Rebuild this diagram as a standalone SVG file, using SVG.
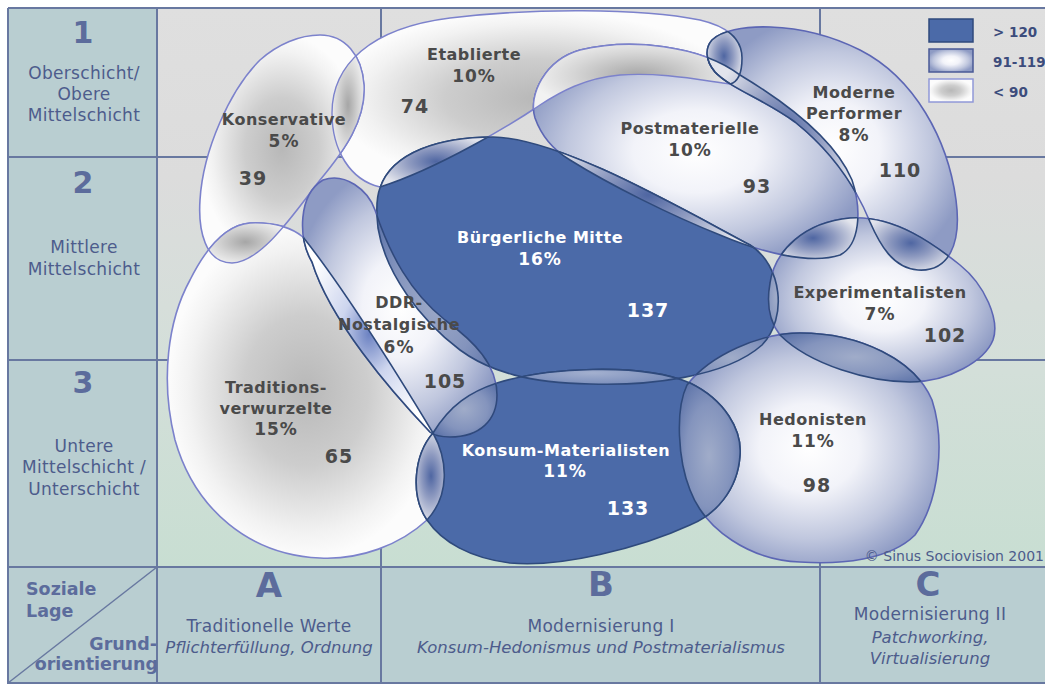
<svg xmlns="http://www.w3.org/2000/svg" xmlns:xlink="http://www.w3.org/1999/xlink" width="1045" height="684" viewBox="0 0 1045 684">
<style>
text{font-family:"DejaVu Sans",Verdana,sans-serif}
.lt{fill:url(#gLight);stroke:#7c82cc;stroke-width:1.6}
.md{fill:url(#gMid);stroke:#5c66b4;stroke-width:1.6}
.dk{fill:#4b6aa8;stroke:#2f4a7c;stroke-width:1.6}
.ln{fill:none;stroke:#2f4a7c;stroke-width:1.6}
.lnl{fill:none;stroke:#7c82cc;stroke-width:1.4}
.lb{font-weight:bold;font-size:16px;fill:#4a4a4a;text-anchor:middle;letter-spacing:0.5px}
.pc{font-weight:bold;font-size:17px;fill:#4a4a4a;text-anchor:middle;letter-spacing:1px}
.nm{font-weight:bold;font-size:19px;fill:#4a4a4a;text-anchor:middle;letter-spacing:1px}
.w{fill:#ffffff}
.ax{font-size:17px;fill:#4d5c8c;text-anchor:middle;letter-spacing:0.3px}
.axi{font-size:16.5px;font-style:italic;fill:#4d5c8c;text-anchor:middle}
.big{font-weight:bold;fill:#5c6c9c;text-anchor:middle}
.grid{stroke:#6878a0;stroke-width:2;fill:none}
.leg{font-weight:bold;font-size:13.5px;fill:#3c4c7c}
</style>
<defs>
<linearGradient id="bg" x1="0" y1="8" x2="0" y2="567" gradientUnits="userSpaceOnUse">
<stop offset="0" stop-color="#dfdfdf"/><stop offset="0.3" stop-color="#dcdcdc"/><stop offset="0.65" stop-color="#d3dfd9"/><stop offset="1" stop-color="#c8ded2"/>
</linearGradient>
<radialGradient id="gLight" cx="0.5" cy="0.5" r="0.5">
<stop offset="0" stop-color="#b8b8b8"/><stop offset="0.45" stop-color="#cdcdcd"/><stop offset="0.85" stop-color="#f2f2f2"/><stop offset="1" stop-color="#fcfcfc"/>
</radialGradient>
<radialGradient id="gMid" cx="0.5" cy="0.5" r="0.55">
<stop offset="0" stop-color="#ffffff"/><stop offset="0.35" stop-color="#f2f3f9"/><stop offset="0.72" stop-color="#c0c7de"/><stop offset="1" stop-color="#8e9bc4"/>
</radialGradient>
<radialGradient id="ovGrey" cx="0.5" cy="0.5" r="0.5">
<stop offset="0" stop-color="#a6a6a6"/><stop offset="0.6" stop-color="#d6d6d6"/><stop offset="1" stop-color="#f2f2f2"/>
</radialGradient>
<radialGradient id="ovBlue" cx="0.5" cy="0.5" r="0.5">
<stop offset="0" stop-color="#4f66a2"/><stop offset="0.45" stop-color="#8e9ac0"/><stop offset="1" stop-color="#e2e4ec"/>
</radialGradient>
<radialGradient id="ovDark" cx="0.5" cy="0.5" r="0.55">
<stop offset="0" stop-color="#a0acc9"/><stop offset="0.6" stop-color="#8494bd"/><stop offset="1" stop-color="#5f75aa"/>
</radialGradient>
<radialGradient id="ovDD" cx="0.5" cy="0.5" r="0.5">
<stop offset="0" stop-color="#a3b0cf"/><stop offset="1" stop-color="#6f84b5"/>
</radialGradient>
<radialGradient id="ovWB" cx="0.5" cy="0.5" r="0.5">
<stop offset="0" stop-color="#6c82c2"/><stop offset="0.4" stop-color="#cdd5ee"/><stop offset="1" stop-color="#ffffff"/>
</radialGradient>
<path id="pE" d="M 380,187 C 350,180 332,150 332,113 C 332,65 370,28 450,18 C 530,8 640,8 700,20 C 730,27 742,40 742,58 C 742,72 738,82 730,84 C 700,80 660,72 620,75 C 585,78 560,92 540,105 C 515,122 440,168 380,187 Z"/>
<path id="pK" d="M 320,35 C 345,35 362,55 364,85 C 366,120 345,150 320,180 C 295,212 262,262 232,263 C 205,263 198,230 200,200 C 203,150 230,90 260,60 C 278,44 300,35 320,35 Z"/>
<path id="pT" d="M 250,223 C 275,222 292,228 303,237 C 345,290 395,370 433,433 C 448,460 450,495 427,520 C 400,545 360,560 320,558 C 250,555 195,510 175,440 C 160,380 168,320 190,280 C 205,250 225,225 250,223 Z"/>
<path id="pP" d="M 535,118 C 528,95 545,60 580,50 C 630,38 700,45 740,75 C 790,105 835,140 852,180 C 862,210 860,245 840,255 C 810,265 760,252 720,235 C 670,215 610,185 570,160 C 550,148 540,132 535,118 Z"/>
<path id="pMP" d="M 712,40 C 730,22 800,20 860,50 C 915,78 948,140 956,200 C 962,245 948,272 918,270 C 893,268 880,245 870,222 C 855,185 830,150 795,122 C 765,100 730,88 715,72 C 705,60 705,48 712,40 Z"/>
<path id="pBM" d="M 380,188 C 392,152 440,137 493,137 C 560,138 680,208 750,245 C 782,265 788,318 762,345 C 725,378 645,386 590,384 C 530,383 490,372 460,350 C 420,320 385,272 378,228 C 376,210 376,198 380,188 Z"/>
<path id="pX" d="M 770,283 C 775,250 805,222 850,218 C 895,215 935,245 960,265 C 985,285 1000,320 993,340 C 985,360 950,382 910,382 C 870,382 810,365 780,335 C 768,320 767,300 770,283 Z"/>
<path id="pH" d="M 687,385 C 710,355 760,333 800,333 C 860,333 915,360 932,400 C 945,440 940,500 915,535 C 890,560 840,565 800,562 C 750,560 705,530 690,490 C 678,460 675,410 687,385 Z"/>
<path id="pKM" d="M 433,433 C 450,405 470,392 497,383 C 545,368 640,362 690,383 C 725,400 742,430 740,455 C 738,490 715,515 690,525 C 640,548 560,568 510,563 C 470,558 442,542 427,520 C 410,495 414,455 433,433 Z"/>
<path id="pD" d="M 323,180 C 345,172 368,190 375,210 C 390,255 410,292 445,320 C 475,342 497,365 497,395 C 497,420 480,437 450,437 C 440,437 435,436 430,432 C 390,390 330,320 312,262 C 298,238 298,195 323,180 Z"/>
<clipPath id="cE"><use xlink:href="#pE"/></clipPath>
<clipPath id="cK"><use xlink:href="#pK"/></clipPath>
<clipPath id="cT"><use xlink:href="#pT"/></clipPath>
<clipPath id="cP"><use xlink:href="#pP"/></clipPath>
<clipPath id="cMP"><use xlink:href="#pMP"/></clipPath>
<clipPath id="cBM"><use xlink:href="#pBM"/></clipPath>
<clipPath id="cX"><use xlink:href="#pX"/></clipPath>
<clipPath id="cH"><use xlink:href="#pH"/></clipPath>
<clipPath id="cKM"><use xlink:href="#pKM"/></clipPath>
<clipPath id="cD"><use xlink:href="#pD"/></clipPath>
</defs>

<g id="frame">
<rect x="157" y="8" width="888" height="559" fill="url(#bg)"/>
<rect x="8" y="8" width="149" height="675" fill="#b9ced1"/>
<rect x="157" y="567" width="888" height="116" fill="#b9ced1"/>
<path class="grid" d="M 8,8 H 1045 M 8,8 V 683 H 1045 M 8,157 H 1045 M 8,360 H 1045 M 8,567 H 1045 M 157,8 V 683 M 381,8 V 683 M 820,8 V 683"/>
<path d="M 8,683 L 157,567" stroke="#6878a0" stroke-width="1.5"/>
</g>

<g id="axis-y">
<text class="big" x="83" y="43" font-size="30">1</text>
<text class="ax" x="84" y="79">Oberschicht/</text>
<text class="ax" x="84" y="100">Obere</text>
<text class="ax" x="84" y="121">Mittelschicht</text>
<text class="big" x="83" y="193" font-size="30">2</text>
<text class="ax" x="84" y="253">Mittlere</text>
<text class="ax" x="84" y="275">Mittelschicht</text>
<text class="big" x="83" y="393" font-size="30">3</text>
<text class="ax" x="84" y="452">Untere</text>
<text class="ax" x="84" y="473">Mittelschicht /</text>
<text class="ax" x="84" y="495">Unterschicht</text>
</g>

<g id="axis-x">
<text class="big" x="26" y="595" font-size="17.5" style="text-anchor:start">Soziale</text>
<text class="big" x="26" y="617" font-size="17.5" style="text-anchor:start">Lage</text>
<text class="big" x="157" y="650" font-size="17.5" style="text-anchor:end">Grund-</text>
<text class="big" x="158" y="670" font-size="17.5" style="text-anchor:end">orientierung</text>
<text class="big" x="269" y="597" font-size="34">A</text>
<text class="ax" x="269" y="632">Traditionelle Werte</text>
<text class="axi" x="269" y="653">Pflichterfüllung, Ordnung</text>
<text class="big" x="601" y="596" font-size="34">B</text>
<text class="ax" x="601" y="632">Modernisierung I</text>
<text class="axi" x="601" y="653">Konsum-Hedonismus und Postmaterialismus</text>
<text class="big" x="928" y="596" font-size="34">C</text>
<text class="ax" x="930" y="620">Modernisierung II</text>
<text class="axi" x="930" y="643">Patchworking,</text>
<text class="axi" x="930" y="664">Virtualisierung</text>
</g>

<g id="legend">
<rect x="929" y="19" width="44" height="23" fill="#4b6aa8" stroke="#2f4a7c" stroke-width="1.5"/>
<rect x="929" y="49" width="44" height="23" fill="url(#gMid)" stroke="#4a5a96" stroke-width="1.5"/>
<rect x="929" y="79" width="44" height="23" fill="url(#gLight)" stroke="#9098d8" stroke-width="1.5"/>
<text class="leg" x="993" y="37">&gt; 120</text>
<text class="leg" x="993" y="67">91-119</text>
<text class="leg" x="993" y="97">&lt; 90</text>
</g>

<g id="connectors"/>

<g id="node-etablierte">
<use xlink:href="#pE" class="lt"/>
<text class="lb" x="474" y="60">Etablierte</text>
<text class="pc" x="474" y="82">10%</text>
<text class="nm" x="415" y="113">74</text>
</g>

<g id="node-konservative">
<use xlink:href="#pK" class="lt"/>
<g clip-path="url(#cE)"><rect x="330" y="45" width="36" height="120" fill="url(#ovGrey)" clip-path="url(#cK)"/><use xlink:href="#pK" class="lnl"/></g>
<g clip-path="url(#cK)"><use xlink:href="#pE" class="lnl"/></g>
<text class="lb" x="284" y="125">Konservative</text>
<text class="pc" x="284" y="147">5%</text>
<text class="nm" x="253" y="185">39</text>
</g>

<g id="node-traditionsverwurzelte">
<use xlink:href="#pT" class="lt"/>
<g clip-path="url(#cK)"><rect x="198" y="218" width="95" height="48" fill="url(#ovGrey)" clip-path="url(#cT)"/><use xlink:href="#pT" class="lnl"/></g>
<g clip-path="url(#cT)"><use xlink:href="#pK" class="lnl"/></g>
<text class="lb" x="276" y="393">Traditions-</text>
<text class="lb" x="276" y="414">verwurzelte</text>
<text class="pc" x="276" y="435">15%</text>
<text class="nm" x="339" y="463">65</text>
</g>

<g id="node-postmaterielle">
<use xlink:href="#pP" class="md"/>
<g clip-path="url(#cE)"><rect x="530" y="38" width="215" height="75" fill="url(#ovGrey)" clip-path="url(#cP)"/><use xlink:href="#pP" class="lnl"/></g>
<g clip-path="url(#cP)"><use xlink:href="#pE" class="lnl"/></g>
<text class="lb" x="690" y="134">Postmaterielle</text>
<text class="pc" x="690" y="156">10%</text>
<text class="nm" x="757" y="193">93</text>
</g>

<g id="node-moderne-performer">
<use xlink:href="#pMP" class="md"/>
<g clip-path="url(#cE)"><rect x="704" y="24" width="40" height="64" fill="url(#ovBlue)" clip-path="url(#cMP)"/></g>
<g clip-path="url(#cP)"><rect x="708" y="42" width="152" height="185" fill="url(#ovBlue)" clip-path="url(#cMP)"/></g>
<g clip-path="url(#cE)"><use xlink:href="#pMP" class="ln"/></g>
<g clip-path="url(#cP)"><use xlink:href="#pMP" class="ln"/></g>
<g clip-path="url(#cMP)"><use xlink:href="#pE" class="ln"/><use xlink:href="#pP" class="ln"/></g>
<text class="lb" x="854" y="98">Moderne</text>
<text class="lb" x="854" y="119">Performer</text>
<text class="pc" x="854" y="141">8%</text>
<text class="nm" x="900" y="177">110</text>
</g>

<g id="node-buergerliche-mitte">
<use xlink:href="#pBM" class="dk"/>
<g clip-path="url(#cE)"><rect x="376" y="133" width="120" height="57" fill="url(#ovBlue)" clip-path="url(#cBM)"/></g>
<g clip-path="url(#cP)"><rect x="533" y="130" width="230" height="130" fill="url(#ovBlue)" clip-path="url(#cBM)"/></g>
<g clip-path="url(#cE)"><use xlink:href="#pBM" class="ln"/></g>
<g clip-path="url(#cP)"><use xlink:href="#pBM" class="ln"/></g>
<g clip-path="url(#cBM)"><use xlink:href="#pE" class="ln"/><use xlink:href="#pP" class="ln"/></g>
<text class="lb w" x="540" y="243">Bürgerliche Mitte</text>
<text class="pc w" x="540" y="265">16%</text>
<text class="nm w" x="648" y="317">137</text>
</g>

<g id="node-experimentalisten">
<use xlink:href="#pX" class="md"/>
<g clip-path="url(#cP)"><rect x="766" y="212" width="94" height="52" fill="url(#ovBlue)" clip-path="url(#cX)"/></g>
<g clip-path="url(#cMP)"><rect x="862" y="212" width="98" height="62" fill="url(#ovBlue)" clip-path="url(#cX)"/></g>
<g clip-path="url(#cBM)"><rect x="762" y="248" width="28" height="98" fill="url(#ovDark)" clip-path="url(#cX)"/></g>
<g clip-path="url(#cP)"><use xlink:href="#pX" class="ln"/></g>
<g clip-path="url(#cMP)"><use xlink:href="#pX" class="ln"/></g>
<g clip-path="url(#cBM)"><use xlink:href="#pX" class="ln"/></g>
<g clip-path="url(#cX)"><use xlink:href="#pP" class="ln"/><use xlink:href="#pMP" class="ln"/><use xlink:href="#pBM" class="ln"/></g>
<text class="lb" x="880" y="298">Experimentalisten</text>
<text class="pc" x="880" y="320">7%</text>
<text class="nm" x="945" y="342">102</text>
</g>

<g id="node-hedonisten">
<use xlink:href="#pH" class="md"/>
<g clip-path="url(#cBM)"><rect x="676" y="328" width="112" height="60" fill="url(#ovDark)" clip-path="url(#cH)"/></g>
<g clip-path="url(#cX)"><rect x="770" y="328" width="170" height="58" fill="url(#ovDark)" clip-path="url(#cH)"/></g>
<g clip-path="url(#cBM)"><use xlink:href="#pH" class="ln"/></g>
<g clip-path="url(#cX)"><use xlink:href="#pH" class="ln"/></g>
<g clip-path="url(#cH)"><use xlink:href="#pBM" class="ln"/><use xlink:href="#pX" class="ln"/></g>
<text class="lb" x="813" y="425">Hedonisten</text>
<text class="pc" x="813" y="447">11%</text>
<text class="nm" x="817" y="492">98</text>
</g>

<g id="node-konsum-materialisten">
<use xlink:href="#pKM" class="dk"/>
<g clip-path="url(#cBM)"><rect x="485" y="358" width="215" height="30" fill="url(#ovDD)" clip-path="url(#cKM)"/></g>
<g clip-path="url(#cT)"><rect x="410" y="428" width="42" height="96" fill="url(#ovBlue)" clip-path="url(#cKM)"/></g>
<g clip-path="url(#cH)"><rect x="674" y="378" width="70" height="155" fill="url(#ovDark)" clip-path="url(#cKM)"/></g>
<g clip-path="url(#cBM)"><use xlink:href="#pKM" class="ln"/></g>
<g clip-path="url(#cT)"><use xlink:href="#pKM" class="ln"/></g>
<g clip-path="url(#cH)"><use xlink:href="#pKM" class="ln"/></g>
<g clip-path="url(#cKM)"><use xlink:href="#pBM" class="ln"/><use xlink:href="#pT" class="ln"/><use xlink:href="#pH" class="ln"/></g>
<text class="lb w" x="566" y="456">Konsum-Materialisten</text>
<text class="pc w" x="565" y="477">11%</text>
<text class="nm w" x="628" y="515">133</text>
</g>

<g id="node-ddr-nostalgische">
<use xlink:href="#pD" class="md"/>
<g clip-path="url(#cT)"><rect x="298" y="228" width="142" height="212" fill="url(#ovWB)" clip-path="url(#cD)"/></g>
<g clip-path="url(#cBM)"><rect x="372" y="185" width="130" height="215" fill="url(#ovDark)" clip-path="url(#cD)"/></g>
<g clip-path="url(#cKM)"><rect x="428" y="378" width="72" height="62" fill="url(#ovDark)" clip-path="url(#cD)"/></g>
<g clip-path="url(#cT)"><use xlink:href="#pD" class="ln"/></g>
<g clip-path="url(#cBM)"><use xlink:href="#pD" class="ln"/></g>
<g clip-path="url(#cKM)"><use xlink:href="#pD" class="ln"/></g>
<g clip-path="url(#cD)"><use xlink:href="#pT" class="ln"/><use xlink:href="#pBM" class="ln"/><use xlink:href="#pKM" class="ln"/></g>
<text class="lb" x="399" y="308">DDR-</text>
<text class="lb" x="399" y="330">Nostalgische</text>
<text class="pc" x="399" y="353">6%</text>
<text class="nm" x="445" y="388">105</text>
</g>

<text x="1044" y="561" font-size="14" fill="#4d5c8c" text-anchor="end">© Sinus Sociovision 2001</text>
</svg>
